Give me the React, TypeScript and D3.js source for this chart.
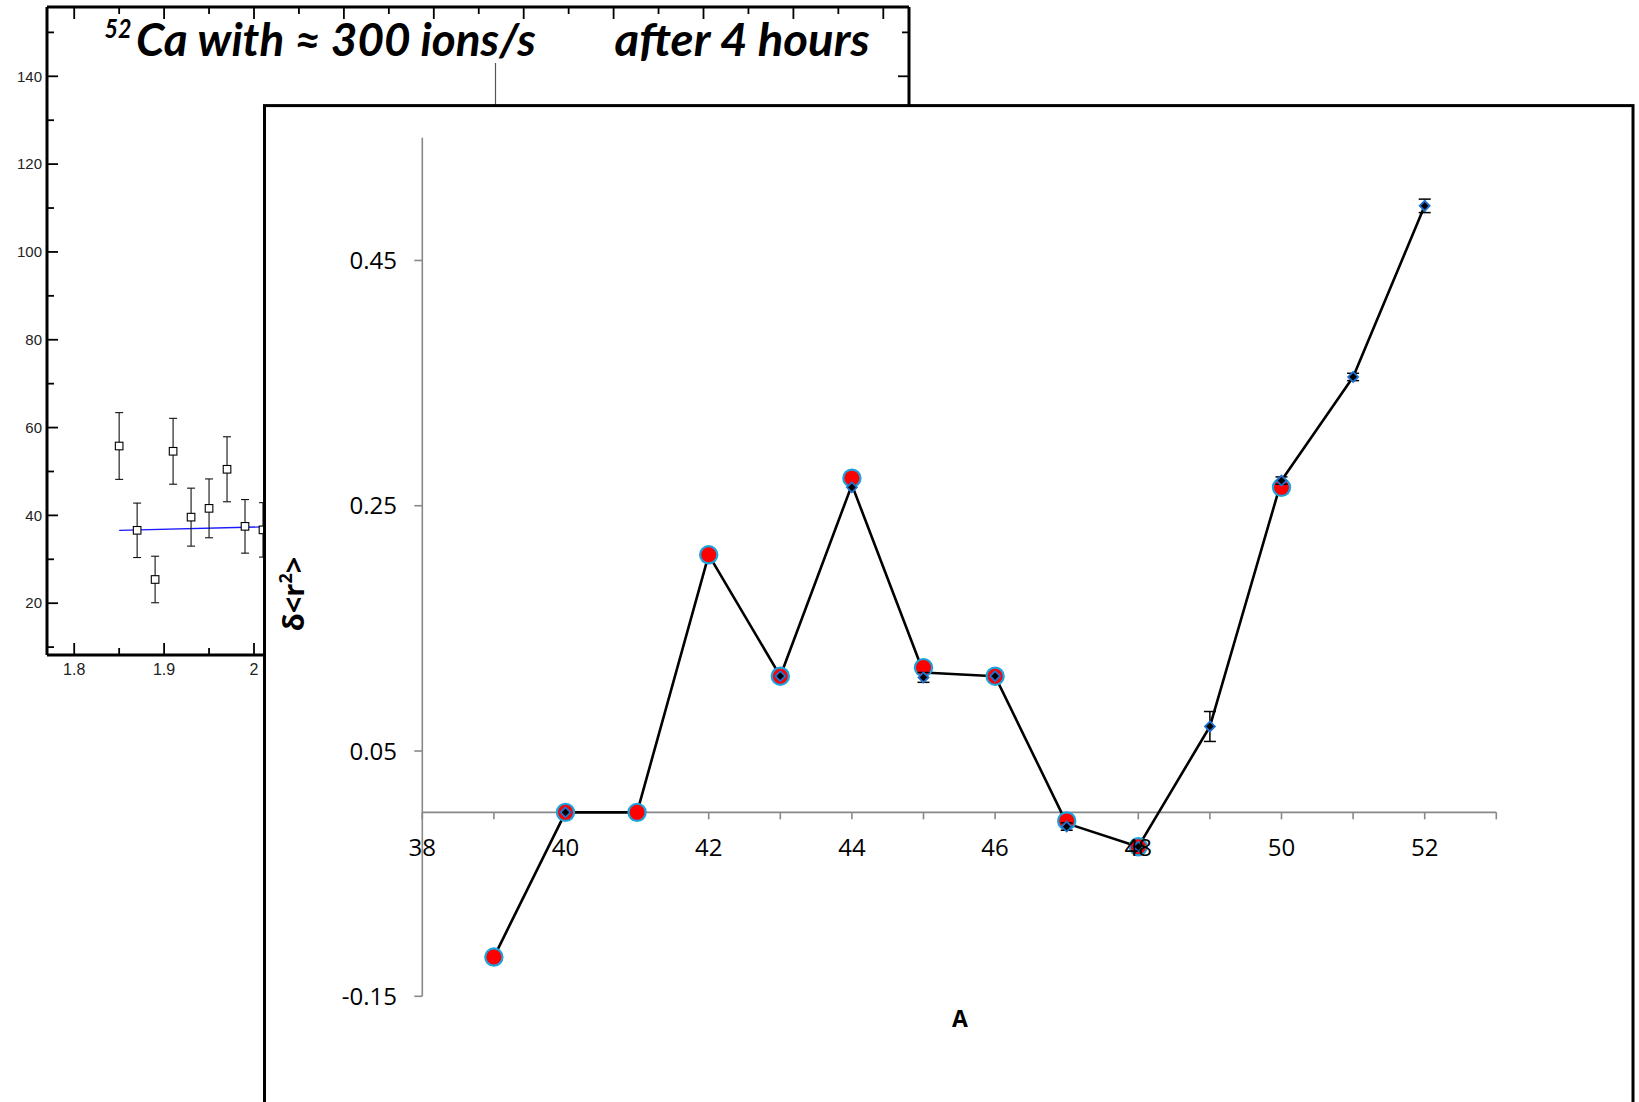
import React from 'react';
import * as d3 from 'd3';

// ---------- background (Origin-style) chart data ----------
const bgXTickValues = [1.8, 1.9, 2.0];
const bgXTickLabels = ['1.8', '1.9', '2'];
const bgYTickValues = [20, 40, 60, 80, 100, 120, 140];
const bgX = [1.85, 1.87, 1.89, 1.91, 1.93, 1.95, 1.97, 1.99, 2.01];
const bgY = [55.8, 36.6, 25.4, 54.6, 39.6, 41.6, 50.5, 37.5, 36.7];
const bgErr = [7.6, 6.2, 5.3, 7.5, 6.6, 6.7, 7.4, 6.1, 6.2];
const fitX = [1.85, 2.7];
const fitY = [36.6, 40.8];

// ---------- foreground (Excel-style) chart data ----------
const xTickValues = [38, 40, 42, 44, 46, 48, 50, 52];
const yTickValues = [-0.15, 0.05, 0.25, 0.45];
const yTickLabels = ['-0.15', '0.05', '0.25', '0.45'];
const redA = [39, 40, 41, 42, 43, 44, 45, 46, 47, 48, 50];
const redV = [-0.118, 0, 0, 0.21, 0.111, 0.2725, 0.118, 0.111, -0.007, -0.028, 0.265];
const diaA = [40, 43, 44, 45, 46, 47, 48, 49, 50, 51, 52];
const diaV = [0, 0.111, 0.265, 0.11, 0.111, -0.0116, -0.028, 0.07, 0.2705, 0.355, 0.4945];
const diaErr = [0, 0, 0, 0.004, 0, 0.003, 0, 0.0122, 0.003, 0.003, 0.0055];
const lineA = [39, 40, 41, 42, 43, 44, 45, 46, 47, 48, 49, 50, 51, 52];
const lineV = [-0.118, 0, 0, 0.21, 0.111, 0.267, 0.114, 0.111, -0.009, -0.028, 0.07, 0.2705, 0.355, 0.4945];

export default function App() {
  const W = 1639;
  const H = 1102;

  // background chart geometry
  const bgLeft = 47, bgRight = 909, bgTop = 7, bgBottom = 655;
  const bx = d3.scaleLinear().domain([1.8, 2.0]).range([74.2, 254]);
  const by = d3.scaleLinear().domain([20, 140]).range([603.2, 76.3]);
  const bxMinor = d3.range(1.8, 2.73, 0.05).map((v) => +v.toFixed(2));
  const byMinor = d3.range(10, 151, 10);

  // foreground chart geometry
  const boxL = 264.5, boxT = 105.6, boxR = 1633;
  const fx = d3.scaleLinear().domain([38, 53]).range([422.3, 1496.3]);
  const fy = d3.scaleLinear().domain([-0.15, 0.55]).range([996.3, 137.8]);
  const xMinor = d3.range(38, 54, 1);

  const linePath = d3
    .line<number>()
    .x((_, i) => fx(lineA[i]))
    .y((d) => fy(d))(lineV) as string;

  const fitPath = d3
    .line<number>()
    .x((_, i) => bx(fitX[i]))
    .y((d) => by(d))(fitY) as string;

  const tickFont = "'Open Sans', 'DejaVu Sans', sans-serif";
  const bgFont = "'Liberation Sans', Arial, sans-serif";
  const titleFont = "Lato, 'Open Sans', sans-serif";

  return (
    <svg
      width={W}
      height={H}
      viewBox={`0 0 ${W} ${H}`}
      style={{ position: 'absolute', left: 0, top: 0, background: '#fff' }}
    >
      <rect x={0} y={0} width={W} height={H} fill="#fff" />

      {/* ===== Background chart ===== */}
      <g>
        {byMinor.map((v) => {
          const major = v % 20 === 0;
          const len = major ? 11 : 7;
          return (
            <g key={'by' + v}>
              <line x1={bgLeft} x2={bgLeft + len} y1={by(v)} y2={by(v)} stroke="#000" strokeWidth={1.8} />
              <line x1={bgRight} x2={bgRight - len} y1={by(v)} y2={by(v)} stroke="#000" strokeWidth={1.8} />
            </g>
          );
        })}
        {bxMinor.map((v) => {
          const major = Math.abs((v * 10) % 1) < 1e-6 || Math.abs((v * 10) % 1 - 1) < 1e-6;
          const len = major ? 12 : 7;
          return (
            <g key={'bx' + v}>
              <line x1={bx(v)} x2={bx(v)} y1={bgBottom} y2={bgBottom - len} stroke="#000" strokeWidth={1.8} />
              <line x1={bx(v)} x2={bx(v)} y1={bgTop} y2={bgTop + len} stroke="#000" strokeWidth={1.8} />
            </g>
          );
        })}
        <line x1={bgLeft} x2={bgRight} y1={bgTop} y2={bgTop} stroke="#000" strokeWidth={3} />
        <line x1={bgLeft} x2={bgLeft} y1={bgTop} y2={bgBottom} stroke="#000" strokeWidth={3} />
        <line x1={bgRight} x2={bgRight} y1={bgTop} y2={bgBottom} stroke="#000" strokeWidth={3} />
        <line x1={bgLeft} x2={bgRight} y1={bgBottom} y2={bgBottom} stroke="#000" strokeWidth={3} />

        {bgYTickValues.map((v) => (
          <text key={'byl' + v} x={42} y={by(v)} dy="0.35em" textAnchor="end" fontFamily={bgFont} fontSize={15} fill="#222">
            {v}
          </text>
        ))}
        {bgXTickValues.map((v, i) => (
          <text key={'bxl' + v} x={bx(v)} y={675} textAnchor="middle" fontFamily={bgFont} fontSize={16} fill="#222">
            {bgXTickLabels[i]}
          </text>
        ))}

        <path d={fitPath} fill="none" stroke="#1a1aff" strokeWidth={1.3} />

        {bgX.map((xv, i) => {
          const cx = bx(xv);
          const cy = by(bgY[i]);
          const y1 = by(bgY[i] + bgErr[i]);
          const y2 = by(bgY[i] - bgErr[i]);
          return (
            <g key={'bp' + i}>
              <line x1={cx} x2={cx} y1={y1} y2={y2} stroke="#111" strokeWidth={1.1} />
              <line x1={cx - 4} x2={cx + 4} y1={y1} y2={y1} stroke="#111" strokeWidth={1.1} />
              <line x1={cx - 4} x2={cx + 4} y1={y2} y2={y2} stroke="#111" strokeWidth={1.1} />
              <rect x={cx - 3.8} y={cy - 3.8} width={7.6} height={7.6} fill="#fff" stroke="#000" strokeWidth={1.1} />
            </g>
          );
        })}

        <line x1={495.5} x2={495.5} y1={63} y2={boxT} stroke="#555" strokeWidth={1.2} />

        <text x={104.5} y={38} fontFamily={titleFont} fontWeight={700} fontStyle="italic" fontSize={26} textLength={27} lengthAdjust="spacingAndGlyphs" fill="#000">
          52
        </text>
        <text x={135.9} y={56.4} fontFamily={titleFont} fontWeight={700} fontStyle="italic" fontSize={46} textLength={400} lengthAdjust="spacingAndGlyphs" fill="#000">
          Ca with ≈ 300 ions/s
        </text>
        <text x={614.6} y={56.4} fontFamily={titleFont} fontWeight={700} fontStyle="italic" fontSize={46} textLength={255} lengthAdjust="spacingAndGlyphs" fill="#000">
          after 4 hours
        </text>
      </g>

      {/* ===== Foreground chart ===== */}
      <g>
        <rect x={boxL} y={boxT} width={boxR - boxL} height={H + 20 - boxT} fill="#fff" stroke="#000" strokeWidth={3} />

        <line x1={fx(38)} x2={fx(38)} y1={fy(0.55)} y2={fy(-0.15)} stroke="#888" strokeWidth={1.6} />
        {yTickValues.map((v) => (
          <line key={'yt' + v} x1={fx(38) - 8} x2={fx(38)} y1={fy(v)} y2={fy(v)} stroke="#888" strokeWidth={1.6} />
        ))}
        <line x1={fx(38)} x2={fx(53)} y1={fy(0)} y2={fy(0)} stroke="#888" strokeWidth={1.6} />
        {xMinor.map((v) => (
          <line key={'xt' + v} x1={fx(v)} x2={fx(v)} y1={fy(0)} y2={fy(0) + 7} stroke="#888" strokeWidth={1.6} />
        ))}

        <path d={linePath} fill="none" stroke="#000" strokeWidth={2.6} strokeLinejoin="round" />

        {redA.map((a, i) => (
          <circle key={'rc' + a} cx={fx(a)} cy={fy(redV[i])} r={8.6} fill="#ff0000" stroke="#1aa3dc" strokeWidth={2.2} />
        ))}

        {diaA.map((a, i) => {
          const cx = fx(a);
          const cy = fy(diaV[i]);
          const e = diaErr[i];
          const y1 = fy(diaV[i] + e);
          const y2 = fy(diaV[i] - e);
          const s = 5;
          return (
            <g key={'dm' + a}>
              {e > 0 && (
                <g>
                  <line x1={cx} x2={cx} y1={y1} y2={y2} stroke="#000" strokeWidth={1.5} />
                  <line x1={cx - 6} x2={cx + 6} y1={y1} y2={y1} stroke="#000" strokeWidth={1.5} />
                  <line x1={cx - 6} x2={cx + 6} y1={y2} y2={y2} stroke="#000" strokeWidth={1.5} />
                </g>
              )}
              <path
                d={`M${cx},${cy - s}L${cx + s},${cy}L${cx},${cy + s}L${cx - s},${cy}Z`}
                fill="#000"
                stroke="#1f72d2"
                strokeWidth={1.8}
              />
            </g>
          );
        })}

        {yTickValues.map((v, i) => (
          <text key={'yl' + v} x={397} y={fy(v)} dy="0.36em" textAnchor="end" fontFamily={tickFont} fontSize={24} fill="#000">
            {yTickLabels[i]}
          </text>
        ))}
        {xTickValues.map((v) => (
          <text key={'xl' + v} x={fx(v)} y={856} textAnchor="middle" fontFamily={tickFont} fontSize={24} fill="#000">
            {v}
          </text>
        ))}

        <text x={960} y={1027} textAnchor="middle" fontFamily={tickFont} fontWeight={700} fontSize={23} fill="#000">
          A
        </text>
        <text transform="translate(304,594) rotate(-90)" textAnchor="middle" fontFamily={tickFont} fontWeight={700} fontSize={29} fill="#000">
          δ&lt;r<tspan fontSize={18} dy={-12}>2</tspan><tspan dy={12}>&gt;</tspan>
        </text>
      </g>
    </svg>
  );
}
